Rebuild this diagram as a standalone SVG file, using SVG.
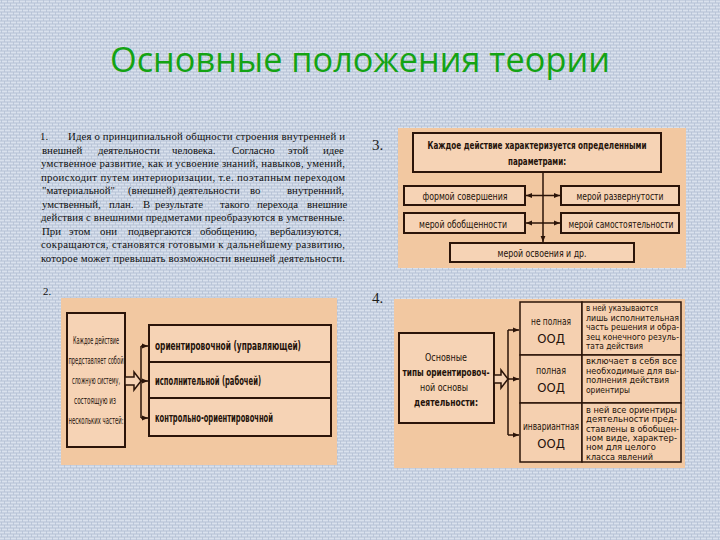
<svg xmlns="http://www.w3.org/2000/svg" width="720" height="540" viewBox="0 0 720 540">
<defs>
<pattern id="bg" width="6" height="6" patternUnits="userSpaceOnUse">
<rect width="6" height="6" fill="#c6d0e0"/>
<path d="M0 1.5H6M0 4.5H6" stroke="#d9e1ed" stroke-width="1"/>
<path d="M1.5 0V3M4.5 3V6" stroke="#b4c0d4" stroke-width="0.8"/>
</pattern>
<marker id="ah" viewBox="0 0 10 10" refX="10" refY="5" markerWidth="6" markerHeight="6" orient="auto" markerUnits="userSpaceOnUse">
<path d="M0,1 L10,5 L0,9 z" fill="#2b1409"/>
</marker>
<style>
.para{font-family:"Liberation Serif","Times New Roman",serif;font-size:10.8px;fill:#111}
.num{font-family:"Liberation Serif","Times New Roman",serif;font-size:15px;fill:#1c1c1c}
.panel{fill:#f2c8a1}
.box{fill:#f6d3b5;stroke:#2b1409;stroke-width:2}
.cell{fill:#f5d0b0;stroke:#2b1409;stroke-width:1.5}
.dt{font-family:"Liberation Sans Narrow","DejaVu Sans Condensed","Liberation Sans",sans-serif;fill:#24120a}
.b{font-weight:bold}
.c{text-anchor:middle}
.ln{stroke:#2b1409;stroke-width:1.5;fill:none}
.hollow{fill:#f6d3b5;stroke:#2b1409;stroke-width:1.5}
</style>
</defs>
<rect width="720" height="540" fill="url(#bg)"/>

<text x="360" y="72" text-anchor="middle" font-family="'Open Sans','Noto Sans',sans-serif" font-size="35" fill="#14a314" textLength="500" lengthAdjust="spacingAndGlyphs">Основные положения теории</text>

<g id="paragraph1">
<text class="para" x="40" y="140">1.</text>
<text class="para" x="68" y="140" textLength="277" lengthAdjust="spacing">Идея о принципиальной общности строения внутренней и</text>
<text class="para" y="153.5"><tspan x="42">внешней</tspan><tspan x="98">деятельности</tspan><tspan x="172">человека.</tspan><tspan x="232">Согласно</tspan><tspan x="288">этой</tspan><tspan x="323">идее</tspan></text>
<text class="para" x="41" y="167" textLength="304" lengthAdjust="spacing">умственное развитие, как и усвоение знаний, навыков, умений,</text>
<text class="para" x="41" y="180.5" textLength="304" lengthAdjust="spacing">происходит путем интериоризации, т.е. поэтапным переходом</text>
<text class="para" y="194"><tspan x="42">"материальной"</tspan><tspan x="128">(внешней)</tspan><tspan x="178">деятельности</tspan><tspan x="250">во</tspan><tspan x="287">внутренний,</tspan></text>
<text class="para" y="207.5"><tspan x="42">умственный,</tspan><tspan x="109">план.</tspan><tspan x="143">В</tspan><tspan x="155">результате</tspan><tspan x="220">такого</tspan><tspan x="257">перехода</tspan><tspan x="307">внешние</tspan></text>
<text class="para" x="41" y="221" textLength="304" lengthAdjust="spacing">действия с внешними предметами преобразуются в умственные.</text>
<text class="para" y="234.5"><tspan x="42">При</tspan><tspan x="69">этом</tspan><tspan x="100">они</tspan><tspan x="128">подвергаются</tspan><tspan x="200">обобщению,</tspan><tspan x="270">вербализуются,</tspan></text>
<text class="para" x="41" y="248" textLength="304" lengthAdjust="spacing">сокращаются, становятся готовыми к дальнейшему развитию,</text>
<text class="para" x="41" y="261.5" textLength="304" lengthAdjust="spacing">которое может превышать возможности внешней деятельности.</text>
</g>

<text class="para" x="43" y="295" font-size="10">2.</text>
<text class="num" x="372" y="150">3.</text>
<text class="num" x="372" y="303">4.</text>

<!-- Diagram 3 -->
<rect class="panel" x="398" y="128" width="288" height="140"/>
<g id="d3-top">
<rect class="box" x="413" y="133" width="248" height="39"/>
<text class="dt b c" x="537" y="149" font-size="10" textLength="219" lengthAdjust="spacingAndGlyphs">Каждое действие характеризуется определенными</text>
<text class="dt b c" x="537" y="165" font-size="10" textLength="58" lengthAdjust="spacingAndGlyphs">параметрами:</text>
</g>
<g id="d3-form">
<rect class="box" x="404" y="186" width="121" height="19"/>
<text class="dt c" x="465" y="199.5" font-size="11" textLength="85" lengthAdjust="spacingAndGlyphs">формой совершения</text>
</g>
<g id="d3-gen">
<rect class="box" x="404" y="213" width="121" height="20"/>
<text class="dt c" x="463" y="227.5" font-size="11" textLength="88" lengthAdjust="spacingAndGlyphs">мерой обобщенности</text>
</g>
<g id="d3-unf">
<rect class="box" x="561" y="186" width="118" height="19"/>
<text class="dt c" x="620" y="199.5" font-size="11" textLength="87" lengthAdjust="spacingAndGlyphs">мерой развернутости</text>
</g>
<g id="d3-ind">
<rect class="box" x="561" y="213" width="118" height="20"/>
<text class="dt c" x="621" y="227.5" font-size="11" textLength="105" lengthAdjust="spacingAndGlyphs">мерой самостоятельности</text>
</g>
<g id="d3-mast">
<rect class="box" x="450" y="243" width="184" height="19"/>
<text class="dt c" x="542" y="256.5" font-size="11" textLength="89" lengthAdjust="spacingAndGlyphs">мерой освоения и др.</text>
</g>

<!-- Diagram 2 -->
<rect class="panel" x="61" y="298" width="276" height="167"/>
<g id="d2-action">
<rect class="box" x="67" y="313" width="58" height="134"/>
<text class="dt c" x="96" y="344" font-size="10" textLength="46" lengthAdjust="spacingAndGlyphs">Каждое действие</text>
<text class="dt c" x="96" y="364" font-size="10" textLength="55" lengthAdjust="spacingAndGlyphs">представляет собой</text>
<text class="dt c" x="96" y="384" font-size="10" textLength="48" lengthAdjust="spacingAndGlyphs">сложную систему,</text>
<text class="dt c" x="95" y="404" font-size="10" textLength="42" lengthAdjust="spacingAndGlyphs">состоящую из</text>
<text class="dt c" x="96" y="424" font-size="10" textLength="55" lengthAdjust="spacingAndGlyphs">нескольких частей:</text>
</g>
<g id="d2-orient">
<rect class="box" x="149" y="325" width="182" height="37"/>
<text class="dt b" x="155" y="349.5" font-size="13" textLength="146" lengthAdjust="spacingAndGlyphs">ориентировочной (управляющей)</text>
</g>
<g id="d2-exec">
<rect class="box" x="149" y="362" width="182" height="36"/>
<text class="dt b" x="155" y="385" font-size="13" textLength="106" lengthAdjust="spacingAndGlyphs">исполнительной (рабочей)</text>
</g>
<g id="d2-control">
<rect class="box" x="149" y="398" width="182" height="38"/>
<text class="dt b" x="155" y="421.5" font-size="13" textLength="118" lengthAdjust="spacingAndGlyphs">контрольно-ориентировочной</text>
</g>

<!-- Diagram 4 -->
<rect class="panel" x="394" y="299" width="291" height="169"/>
<g id="d4-types">
<rect class="box" x="399" y="333" width="95" height="90"/>
<text class="dt c" x="446" y="361" font-size="10.5" textLength="42" lengthAdjust="spacingAndGlyphs">Основные</text>
<text class="dt b c" x="446" y="376" font-size="10.5" textLength="87" lengthAdjust="spacingAndGlyphs">типы ориентировоч-</text>
<text class="dt c" x="444" y="391" font-size="10.5" textLength="48" lengthAdjust="spacingAndGlyphs">ной основы</text>
<text class="dt b c" x="446" y="406" font-size="10.5" textLength="64" lengthAdjust="spacingAndGlyphs">деятельности:</text>
</g>
<g id="d4-row1">
<rect class="cell" x="520" y="302" width="62" height="53"/>
<rect class="cell" x="582" y="302" width="99" height="53"/>
<text class="dt c" x="551" y="325" font-size="10" textLength="40" lengthAdjust="spacingAndGlyphs">не полная</text>
<text class="dt c" x="551" y="343" font-size="13">ООД</text>
<text class="dt" font-size="8.5"><tspan x="586" y="311" textLength="72" lengthAdjust="spacingAndGlyphs">в ней указываются</tspan><tspan x="586" y="320.5" textLength="93" lengthAdjust="spacingAndGlyphs">лишь исполнительная</tspan><tspan x="586" y="330" textLength="93" lengthAdjust="spacingAndGlyphs">часть решения и обра-</tspan><tspan x="586" y="339.5" textLength="93" lengthAdjust="spacingAndGlyphs">зец конечного резуль-</tspan><tspan x="586" y="349" textLength="57" lengthAdjust="spacingAndGlyphs">тата действия</tspan></text>
</g>
<g id="d4-row2">
<rect class="cell" x="520" y="355" width="62" height="48"/>
<rect class="cell" x="582" y="355" width="99" height="48"/>
<text class="dt c" x="551" y="374" font-size="10" textLength="30" lengthAdjust="spacingAndGlyphs">полная</text>
<text class="dt c" x="551" y="392" font-size="13">ООД</text>
<text class="dt" font-size="8.5"><tspan x="586" y="364" textLength="91" lengthAdjust="spacingAndGlyphs">включает в себя все</tspan><tspan x="586" y="373.5" textLength="93" lengthAdjust="spacingAndGlyphs">необходимые для вы-</tspan><tspan x="586" y="383" textLength="83" lengthAdjust="spacingAndGlyphs">полнения действия</tspan><tspan x="586" y="392.5" textLength="44" lengthAdjust="spacingAndGlyphs">ориентиры</tspan></text>
</g>
<g id="d4-row3">
<rect class="cell" x="520" y="403" width="62" height="59"/>
<rect class="cell" x="582" y="403" width="99" height="59"/>
<text class="dt c" x="551" y="430" font-size="10" textLength="56" lengthAdjust="spacingAndGlyphs">инвариантная</text>
<text class="dt c" x="551" y="448" font-size="13">ООД</text>
<text class="dt" font-size="8.5"><tspan x="586" y="413" textLength="91" lengthAdjust="spacingAndGlyphs">в ней все ориентиры</tspan><tspan x="586" y="422.3" textLength="91" lengthAdjust="spacingAndGlyphs">деятельности пред-</tspan><tspan x="586" y="431.6" textLength="93" lengthAdjust="spacingAndGlyphs">ставлены в обобщен-</tspan><tspan x="586" y="440.9" textLength="91" lengthAdjust="spacingAndGlyphs">ном виде, характер-</tspan><tspan x="586" y="450.2" textLength="70" lengthAdjust="spacingAndGlyphs">ном для целого</tspan><tspan x="586" y="459.5" textLength="67" lengthAdjust="spacingAndGlyphs">класса явлений</tspan></text>
</g>

<g id="connectors">
<path class="ln" d="M543,172 V242" marker-end="url(#ah)"/>
<path class="ln" d="M543,195.5 H526" marker-end="url(#ah)"/>
<path class="ln" d="M543,195.5 H560" marker-end="url(#ah)"/>
<path class="ln" d="M543,223 H526" marker-end="url(#ah)"/>
<path class="ln" d="M543,223 H560" marker-end="url(#ah)"/>

<path class="ln" d="M141,346 V418"/>
<path class="ln" d="M141,346 H148" marker-end="url(#ah)"/>
<path class="ln" d="M141,381 H148" marker-end="url(#ah)"/>
<path class="ln" d="M141,418 H148" marker-end="url(#ah)"/>
<path class="hollow" d="M125,377 H134 V372 L141,381 L134,390 V385 H125 Z"/>

<path class="ln" d="M508,330 V435"/>
<path class="ln" d="M508,330 H519" marker-end="url(#ah)"/>
<path class="ln" d="M508,379 H519" marker-end="url(#ah)"/>
<path class="ln" d="M508,435 H519" marker-end="url(#ah)"/>
<path class="hollow" d="M494,375 H501 V370 L508,379 L501,388 V383 H494 Z"/>
</g>
</svg>
